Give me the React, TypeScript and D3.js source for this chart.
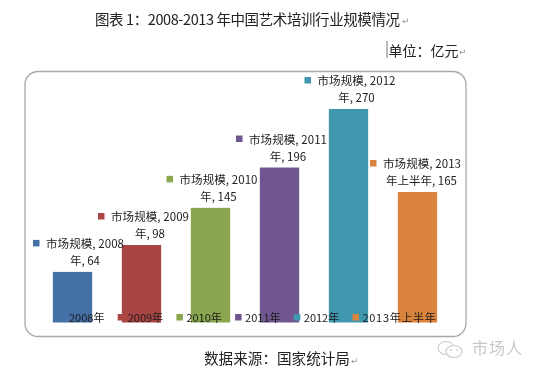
import React from "react";
import * as d3 from "d3";

const categories = ["2008年", "2009年", "2010年", "2011年", "2012年", "2013年上半年"];
const values = [64, 98, 145, 196, 270, 165];
const colors = ["#4570a5", "#a94542", "#8aa64f", "#70578e", "#3f97ae", "#db843d"];
const labelFirst = ["市场规模, 2008", "市场规模, 2009", "市场规模, 2010", "市场规模, 2011", "市场规模, 2012", "市场规模, 2013"];
const labelSecond = ["年, 64", "年, 98", "年, 145", "年, 196", "年, 270", "年上半年, 165"];

const W = 538, H = 375;
const FONT = "'Noto Sans CJK SC', 'DejaVu Sans', sans-serif";
const baseY = 322.5;

// hand-placed data label nudges relative to each bar's centre
const firstLineDx = [-26.5, -30.5, -31, -30.5, -31, -34.5];
const secondLineDx = [12.5, 8.5, 8, 8.5, 8, 4];

const x = d3.scaleBand<string>().domain(categories).range([38, 452]).paddingInner(0.43).paddingOuter(0.215);
const y = d3.scaleLinear().domain([0, 270]).range([baseY, 109]);
const legendX = d3.scalePoint<string>().domain(categories).range([59, 352.5]);

export default function App() {
  return (
    <svg width={W} height={H} viewBox={`0 0 ${W} ${H}`} style={{ position: "absolute", left: 0, top: 0, background: "#fff" }} fontFamily={FONT}>
      <defs>
        <filter id="soft" x="-5%" y="-5%" width="110%" height="110%">
          <feGaussianBlur stdDeviation="0.35" />
        </filter>
      </defs>
      <g filter="url(#soft)">
        <text x={95} y={24.5} fontSize={14.5} fill="#222" textLength={305} lengthAdjust="spacing">图表 1：2008-2013 年中国艺术培训行业规模情况</text>
        <text x={402} y={24} fontSize={9} fill="#999">↵</text>
        <line x1={387} x2={387} y1={41} y2={58} stroke="#555" strokeWidth={0.8} />
        <text x={388.5} y={55.5} fontSize={14} fill="#222">单位：亿元</text>
        <text x={459} y={55} fontSize={9} fill="#999">↵</text>

        <rect x={25} y={71.5} width={441} height={265} rx={13} fill="#fff" stroke="#a8a8a8" strokeWidth={1.3} />

        {categories.map((c, i) => (
          <rect key={c} x={x(c)} y={y(values[i])} width={x.bandwidth()} height={baseY - y(values[i])} fill={colors[i]} />
        ))}

        {categories.map((c, i) => {
          const cx = x(c)! + x.bandwidth() / 2;
          const top = y(values[i]);
          return (
            <g key={c} fontSize={11.5} fill="#222">
              <rect x={cx + firstLineDx[i] - 13} y={top - 32} width={6.5} height={6.5} fill={colors[i]} />
              <text x={cx + firstLineDx[i]} y={top - 24} textLength={78} lengthAdjust="spacing">{labelFirst[i]}</text>
              <text x={cx + secondLineDx[i]} y={top - 7} textAnchor="middle">{labelSecond[i]}</text>
            </g>
          );
        })}

        {categories.map((c, i) => {
          const lx = legendX(c)!;
          return (
            <g key={c} fontSize={11} fill="#1a1a1a">
              <rect x={lx} y={314} width={6.5} height={6.5} fill={colors[i]} />
              <text x={lx + 10} y={321.5} letterSpacing={i === 5 ? 0.7 : 0}>{c}</text>
            </g>
          );
        })}

        <text x={204} y={364} fontSize={14.6} fill="#222">数据来源：国家统计局</text>
        <text x={351} y={364} fontSize={9} fill="#999">↵</text>

        <g fill="#fff" stroke="#ccc" strokeWidth={1.2}>
          <ellipse cx={446} cy={348} rx={8} ry={6.5} />
          <ellipse cx={454} cy={351.5} rx={8} ry={6} />
        </g>
        <g fill="#ccc">
          <circle cx={451} cy={350} r={0.9} />
          <circle cx={457} cy={350} r={0.9} />
        </g>
        <text x={472} y={354} fontSize={16} fill="#c8c8c8" textLength={50} lengthAdjust="spacing">市场人</text>
      </g>
    </svg>
  );
}
